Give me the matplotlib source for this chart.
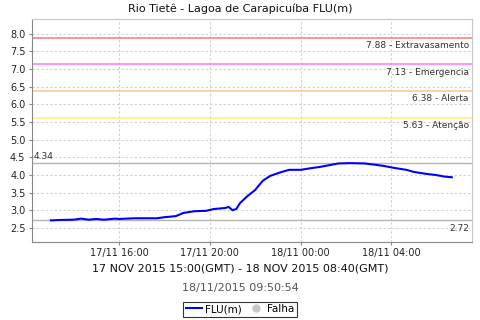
import pandas as pd
import matplotlib.pyplot as plt
import matplotlib.dates as mdates
from matplotlib.lines import Line2D

# leituras FLU(m) - horario local
horas = ["17/11 13:00", "17/11 13:20", "17/11 14:00", "17/11 14:20", "17/11 14:40",
         "17/11 15:00", "17/11 15:20", "17/11 15:50", "17/11 16:00", "17/11 16:20",
         "17/11 16:40", "17/11 17:40", "17/11 18:00", "17/11 18:30", "17/11 18:50",
         "17/11 19:20", "17/11 19:50", "17/11 20:10", "17/11 20:40", "17/11 20:50",
         "17/11 21:00", "17/11 21:10", "17/11 21:20", "17/11 21:40", "17/11 22:00",
         "17/11 22:20", "17/11 22:40", "17/11 23:10", "17/11 23:30", "18/11 00:00",
         "18/11 00:30", "18/11 00:50", "18/11 01:20", "18/11 01:40", "18/11 02:10",
         "18/11 02:50", "18/11 03:20", "18/11 03:40", "18/11 04:10", "18/11 04:40",
         "18/11 05:00", "18/11 05:30", "18/11 06:00", "18/11 06:20", "18/11 06:40"]
nivel = [2.72, 2.73, 2.74, 2.77, 2.74,
         2.76, 2.74, 2.77, 2.76, 2.77,
         2.78, 2.78, 2.81, 2.84, 2.93,
         2.98, 2.99, 3.04, 3.07, 3.10,
         3.01, 3.04, 3.21, 3.41, 3.58,
         3.84, 3.98, 4.09, 4.15, 4.15,
         4.20, 4.23, 4.29, 4.33, 4.34,
         4.33, 4.29, 4.26, 4.20, 4.15,
         4.09, 4.04, 4.00, 3.96, 3.94]

cotas = [7.88, 7.13, 6.38, 5.63]
nomes_cotas = ["Extravasamento", "Emergencia", "Alerta", "Atenção"]
cores_cotas = ["#ff8080", "#ff80ff", "#ffc896", "#fff07a"]

t = pd.to_datetime(["2015/" + h for h in horas], format="%Y/%d/%m %H:%M")
vmax = max(nivel)
vmin = min(nivel)

fig = plt.figure(figsize=(4.8, 3.2), dpi=100)
ax = fig.add_axes([0.066, 0.245, 0.917, 0.696])

for v, cor in zip(cotas, cores_cotas):
    ax.axhline(v, color=cor, lw=1.2, zorder=2)
for v in (vmax, vmin):
    ax.axhline(v, color="#b4b4b4", lw=1.0, zorder=2)

ax.plot(t, nivel, color="#0000ff", lw=1.5, zorder=3)

span = t[-1] - t[0]
ax.set_xlim(t[0] - span * 0.048, t[-1] + span * 0.05)
ax.set_ylim(2.12, 8.42)
ax.set_yticks([2.5, 3.0, 3.5, 4.0, 4.5, 5.0, 5.5, 6.0, 6.5, 7.0, 7.5, 8.0])
ax.xaxis.set_major_locator(mdates.HourLocator(byhour=[0, 4, 8, 12, 16, 20]))
ax.xaxis.set_major_formatter(mdates.DateFormatter("%d/%m %H:%M"))
ax.tick_params(labelsize=7, length=2.5, width=0.8, color="#888888",
               labelcolor="#222222", pad=2)
ax.grid(True, color="#d0d0d0", ls=(0, (2, 2)), lw=0.8)
for s in ax.spines.values():
    s.set_color("#c8c8c8")
ax.spines["left"].set_color("#888888")
ax.spines["bottom"].set_color("#888888")

tr = ax.get_yaxis_transform()
for v, nome in zip(cotas, nomes_cotas):
    ax.text(0.993, v - 0.09, "%.2f - %s" % (v, nome), transform=tr,
            ha="right", va="top", fontsize=6.5, color="#333333")
ax.text(0.004, vmax + 0.05, "%.2f" % vmax, transform=tr, ha="left",
        va="bottom", fontsize=6.5, color="#333333")
ax.text(0.993, vmin - 0.09, "%.2f" % vmin, transform=tr, ha="right",
        va="top", fontsize=6.5, color="#333333")

fig.text(0.5, 0.972, "Rio Tietê - Lagoa de Carapicuíba FLU(m)", ha="center",
         va="center", fontsize=8, color="#111111")
fig.text(0.5, 0.162, "17 NOV 2015 15:00(GMT) - 18 NOV 2015 08:40(GMT)",
         ha="center", va="center", fontsize=8, color="#111111")
fig.text(0.5, 0.1, "18/11/2015 09:50:54", ha="center", va="center",
         fontsize=8, color="#555555")

handles = [Line2D([], [], color="#0000ff", lw=1.5),
           Line2D([], [], color="#c8c8c8", marker="o", ls="", markersize=5)]
leg = fig.legend(handles, ["FLU(m)", "Falha"], loc="center",
                 bbox_to_anchor=(0.5, 0.034), ncol=2, fontsize=7.5,
                 frameon=True, fancybox=False, handlelength=1.6,
                 handletextpad=0.3, columnspacing=0.5, borderpad=0.25,
                 borderaxespad=0)
leg.get_frame().set_edgecolor("black")
leg.get_frame().set_linewidth(0.8)

fig.savefig("out.png", dpi=100)
